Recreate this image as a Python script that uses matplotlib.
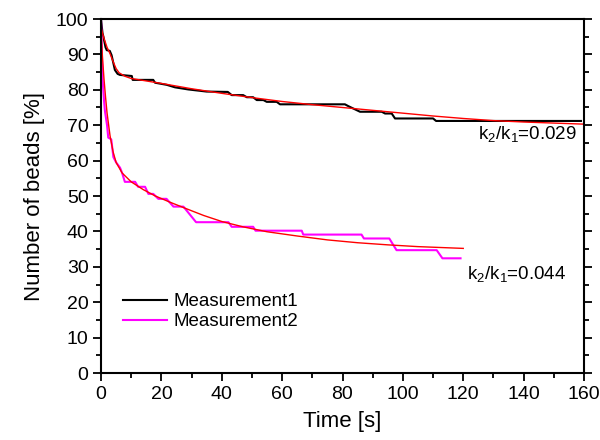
import matplotlib
matplotlib.use("Agg")
import matplotlib.pyplot as plt
from matplotlib.ticker import MultipleLocator

plt.rcParams['font.family'] = ['Liberation Sans', 'DejaVu Sans']
plt.rcParams['mathtext.default'] = 'regular'

# Measurement1 (black)
t1 = [0, 0.5, 0.8, 1.5, 1.9, 2.9, 3.5, 4.6, 5.5, 6.3, 10.2, 10.5, 17.3, 17.9, 21.8,
      24.5, 28.9, 35, 42, 43.3, 47.1, 48.3, 50.4, 51.6, 53.8, 54.9, 58.2, 59.3, 80.8,
      81.9, 83.6, 85.8, 93, 94.1, 96.3, 97.4, 110, 111, 159]
m1 = [100, 96, 95, 92, 91.2, 91, 89.8, 85.6, 84.5, 84.2, 83.9, 82.8, 82.8, 82, 81.4,
      80.7, 80.1, 79.5, 79.4, 78.5, 78.5, 77.9, 77.9, 77.1, 77.1, 76.6, 76.6, 75.9, 75.9,
      75.4, 74.7, 73.8, 73.8, 73.3, 73.3, 71.9, 71.9, 71.2, 71.2]

# Measurement2 (magenta)
t2 = [0, 0.3, 0.6, 1.0, 1.3, 2.0, 2.4, 3.4, 4.1, 5, 6.3, 7, 7.9, 11.3, 12.3, 14.6, 15.7,
      17.3, 19, 21.7, 24, 27.3, 31.5, 42.2, 43.3, 50.4, 51.2, 66.5, 67, 86.3, 87.1, 95.5,
      97.9, 111.2, 113.1, 119.1]
m2 = [100, 90, 82, 77, 74, 70, 66.5, 66, 61, 59.5, 58, 56.5, 54, 54, 52.6, 52.6, 50.6,
      50.6, 49.2, 49.2, 47, 47, 42.6, 42.6, 41.3, 41.3, 40.2, 40.2, 39.1, 39.1, 38, 38,
      34.7, 34.7, 32.4, 32.4]

# fitted curves (red)
tf1 = [0, 1, 2, 3, 4, 5, 6, 8, 10, 15, 20, 30, 40, 50, 60, 70, 80, 90, 100, 110, 120,
       130, 140, 150, 160]
f1 = [97.5, 94.5, 92, 90.2, 88, 86, 84.8, 83.8, 83.2, 82.5, 81.8, 80.3, 79, 77.8, 76.7,
      75.8, 75, 74.2, 73.4, 72.6, 71.9, 71.3, 70.9, 70.6, 70.3]
tf2 = [0, 0.5, 1, 1.5, 2, 3, 4, 5, 7, 10, 14, 18, 23, 28, 34, 40, 47, 55, 65, 75, 85,
       95, 105, 120]
f2 = [97, 89, 83, 78, 73.5, 67, 62.5, 59.5, 56.5, 54, 51.8, 50, 48.2, 46.5, 44.5, 42.8,
      41.3, 39.9, 38.7, 37.6, 36.8, 36.2, 35.7, 35.2]

fig = plt.figure(figsize=(6, 4.4), dpi=100)
ax = fig.add_axes([101/600, 1 - 373/440, 483/600, 354/440])

ax.plot(t1, m1, color='black', lw=1.5, label='Measurement1')
ax.plot(t2, m2, color='#ff00ff', lw=1.5, label='Measurement2')
ax.plot(tf1, f1, color='red', lw=1)
ax.plot(tf2, f2, color='red', lw=1)

ax.set_xlim(0, 160)
ax.set_ylim(0, 100)
ax.xaxis.set_major_locator(MultipleLocator(20))
ax.xaxis.set_minor_locator(MultipleLocator(10))
ax.yaxis.set_major_locator(MultipleLocator(10))
ax.yaxis.set_minor_locator(MultipleLocator(5))
ax.tick_params(which='both', direction='out', width=1.3, labelsize=14,
               top=True, right=True)
ax.tick_params(which='major', length=6, pad=3)
ax.tick_params(which='minor', length=3.5)
ax.tick_params(axis='x', which='both', top=False)
for s in ax.spines.values():
    s.set_linewidth(1.5)

ax.set_xlabel('Time [s]', fontsize=16, labelpad=6)
ax.set_ylabel('Number of beads [%]', fontsize=16, labelpad=8)

ax.text(157.5, 67.5, r'k$_2$/k$_1$=0.029', fontsize=13.5, ha='right', va='center')
ax.text(121.3, 28, r'k$_2$/k$_1$=0.044', fontsize=13.5, ha='left', va='center')

ax.legend(loc='lower left', bbox_to_anchor=(0.03, 0.10), frameon=False, fontsize=13.5,
          handlelength=2.35, handletextpad=0.35, labelspacing=0.15, borderaxespad=0)

fig.savefig('out.png', dpi=100)
